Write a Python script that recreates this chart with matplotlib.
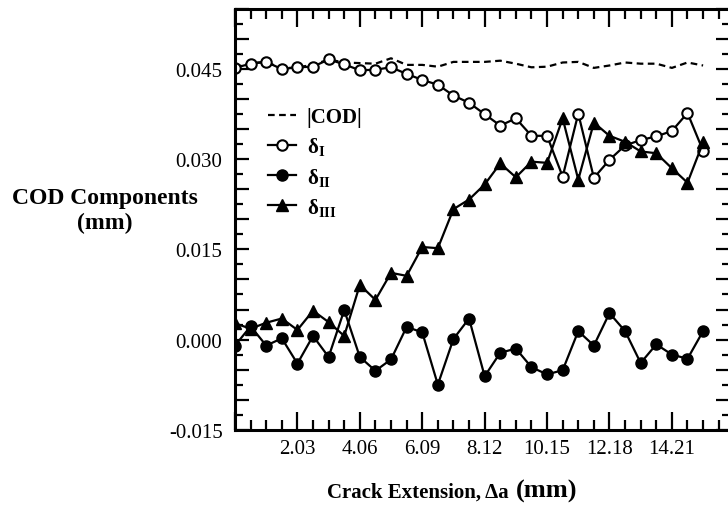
import numpy as np
import matplotlib
matplotlib.use("Agg")
from matplotlib import pyplot as plt
from matplotlib.ticker import MultipleLocator, FuncFormatter

plt.rcParams['font.family'] = ['Liberation Serif', 'DejaVu Serif']
plt.rcParams['mathtext.fontset'] = 'custom'
plt.rcParams['mathtext.rm'] = 'Liberation Serif'
plt.rcParams['mathtext.bf'] = 'Liberation Serif:bold'
plt.rcParams['mathtext.it'] = 'Liberation Serif:italic'

# crack extension, one point every 0.5075 mm
step = 0.5075
da = np.arange(31) * step

cod = [0.0453, 0.0460, 0.0462, 0.0451, 0.0453, 0.0457, 0.0466, 0.0461, 0.0460, 0.0459,
       0.0468, 0.0457, 0.0457, 0.0454, 0.0462, 0.0462, 0.0462, 0.0464, 0.0459, 0.0453,
       0.0454, 0.0461, 0.0462, 0.0452, 0.0456, 0.0461, 0.0459, 0.0459, 0.0452, 0.0461,
       0.0456]
d1 = [0.0452, 0.0459, 0.0462, 0.0450, 0.0453, 0.0454, 0.0466, 0.0458, 0.0448, 0.0449,
      0.0453, 0.0442, 0.0432, 0.0424, 0.0406, 0.0394, 0.0375, 0.0356, 0.0368, 0.0339,
      0.0339, 0.0271, 0.0376, 0.0269, 0.0299, 0.0323, 0.0332, 0.0338, 0.0347, 0.0377,
      0.0314]
d2 = [-0.0010, 0.0022, -0.0010, 0.0002, -0.0040, 0.0006, -0.0029, 0.0049, -0.0029, -0.0052,
      -0.0033, 0.0021, 0.0012, -0.0075, 0.0001, 0.0035, -0.0061, -0.0022, -0.0015, -0.0046,
      -0.0058, -0.0051, 0.0014, -0.0010, 0.0044, 0.0014, -0.0039, -0.0008, -0.0025, -0.0032,
      0.0014]
d3 = [0.0027, 0.0018, 0.0028, 0.0035, 0.0016, 0.0048, 0.0029, 0.0006, 0.0091, 0.0066,
      0.0111, 0.0106, 0.0154, 0.0152, 0.0217, 0.0233, 0.0258, 0.0293, 0.0270, 0.0296,
      0.0294, 0.0368, 0.0266, 0.0361, 0.0339, 0.0329, 0.0313, 0.0310, 0.0285, 0.0261,
      0.0328]

fig = plt.figure(figsize=(7.28, 5.06), dpi=100)
ax = fig.add_axes([235/728, 75.3/506, 495/728, 420.7/506])

ax.plot(da, cod, color='black', lw=1.6, ls=(0, (3, 2)), label='|COD|')
ax.plot(da, d1, color='black', lw=1.6, marker='o', ms=7.5, mfc='white', mew=1.5,
        label=r'$\mathbf{\delta_{I}}$')
ax.plot(da, d2, color='black', lw=1.6, marker='o', ms=8, mfc='black',
        label=r'$\mathbf{\delta_{II}}$')
ax.plot(da, d3, color='black', lw=1.6, marker='^', ms=8.5, mfc='black',
        label=r'$\mathbf{\delta_{III}}$')

ax.set_xlim(0, 16.1)
ax.set_ylim(-0.015, 0.055)

ax.xaxis.set_major_locator(MultipleLocator(4 * step))
ax.xaxis.set_minor_locator(MultipleLocator(step))
ax.yaxis.set_major_locator(MultipleLocator(0.005))
ax.yaxis.set_minor_locator(MultipleLocator(0.0025))


def xfmt(v, pos):
    if abs(v) < 1e-6:
        return ''
    return '%.2f' % v


def yfmt(v, pos):
    k = round(v / 0.005)
    if k % 3 != 0:
        return ''
    v = round(v, 4)
    if abs(v) < 1e-9:
        v = 0.0
    return '%.3f' % v


ax.xaxis.set_major_formatter(FuncFormatter(xfmt))
ax.yaxis.set_major_formatter(FuncFormatter(yfmt))

ax.tick_params(which='both', direction='in', top=True, right=True, width=1.6,
               labelsize=15, colors='black')
ax.tick_params(axis='x', which='major', length=13, pad=7)
ax.tick_params(axis='x', which='minor', length=7)
ax.tick_params(axis='y', which='major', length=10, pad=9)
ax.tick_params(axis='y', which='minor', length=6)
for s in ax.spines.values():
    s.set_linewidth(2.2)

leg = ax.legend(loc='upper left', bbox_to_anchor=(0.05, 0.786), frameon=False,
                handlelength=1.35, handletextpad=0.5, labelspacing=0.39,
                prop={'size': 15, 'weight': 'bold'}, borderaxespad=0)

fig.text(105/728, 1 - 211/506, 'COD Components\n(mm)', ha='center', va='center',
         fontsize=17, fontweight='bold', linespacing=1.2)
fig.text(327/728, 1 - 498/506, 'Crack Extension, \u0394a', ha='left', va='baseline',
         fontsize=15, fontweight='bold')
fig.text(516/728, 1 - 498/506, '(mm)', ha='left', va='baseline',
         fontsize=19, fontweight='bold')

fig.savefig('out.png', dpi=100)
